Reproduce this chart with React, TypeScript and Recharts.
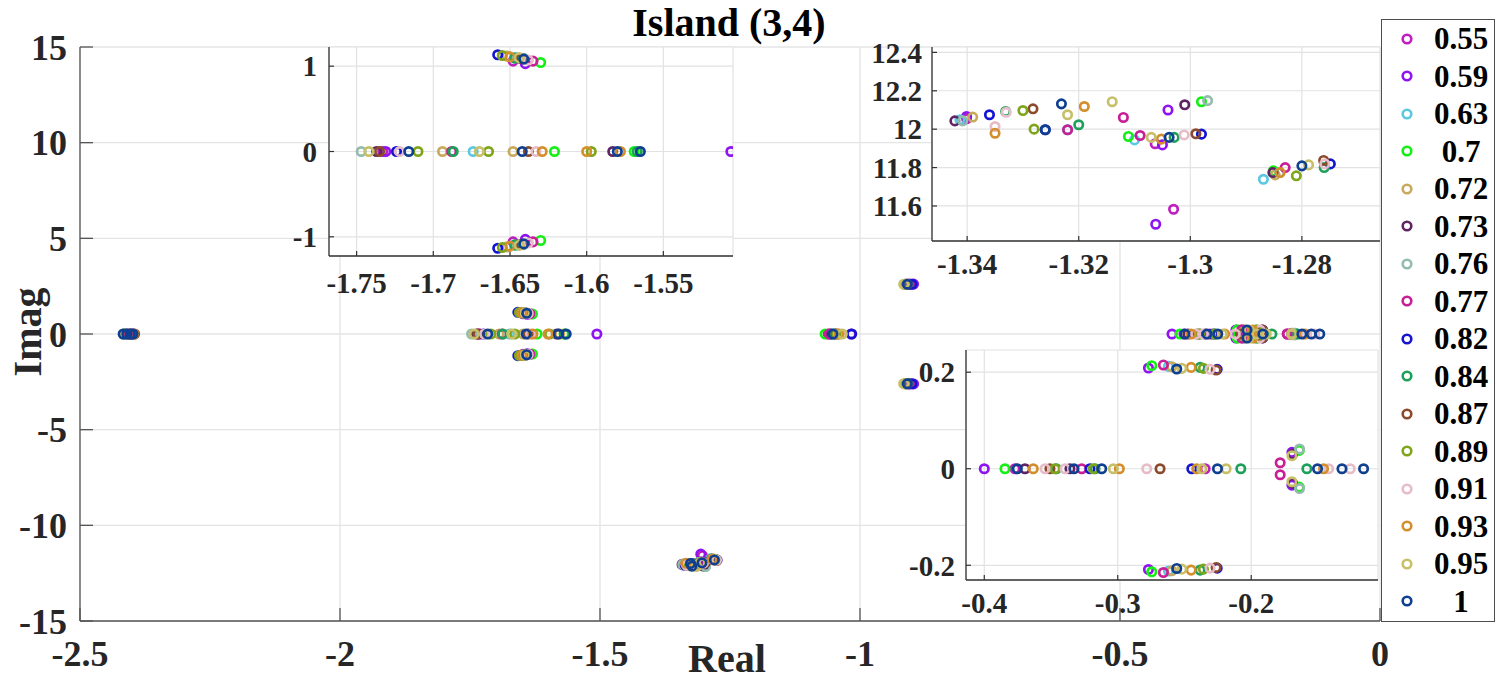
import React from "react";
import { ScatterChart, Scatter, XAxis, YAxis, CartesianGrid } from "recharts";

const SERIF = '"Liberation Serif", "Times New Roman", Times, serif';

const levels = ["0.55", "0.59", "0.63", "0.7", "0.72", "0.73", "0.76", "0.77", "0.82", "0.84", "0.87", "0.89", "0.91", "0.93", "0.95", "1"];
const levelColors = ["#bf1fbf", "#8f14f0", "#5bc8e0", "#14f014", "#c9a95c", "#5e2463", "#93bbae", "#c81e96", "#1414d2", "#1ea05a", "#8c4a2c", "#7fa51a", "#e6bcc8", "#d48f2c", "#c8c068", "#0f3f91"];

const mainXTicks = [-2.5, -2, -1.5, -1, -0.5, 0];
const mainYTicks = [-15, -10, -5, 0, 5, 10, 15];

type Pole = [string, number, number];

// real poles have im = 0; complex poles are stored by their upper half and drawn as re ± im
const farPoles: Pole[] = [
  ["0.55", -2.401, 0], ["0.59", -2.399, 0], ["0.63", -2.403, 0], ["0.7", -2.405, 0],
  ["0.72", -2.407, 0], ["0.73", -2.409, 0], ["0.76", -2.411, 0], ["0.77", -2.404, 0],
  ["0.82", -2.413, 0], ["0.84", -2.414, 0], ["0.87", -2.395, 0], ["0.89", -2.415, 0],
  ["0.91", -2.412, 0], ["0.93", -2.397, 0], ["0.95", -2.416, 0],
  ["1", -2.417, 0], ["1", -2.410, 0], ["1", -2.403, 0], ["1", -2.398, 0],
];

const midReal: Pole[] = [
  ["0.76", -1.747, 0], ["0.95", -1.742, 0], ["0.73", -1.737, 0], ["0.87", -1.735, 0],
  ["0.55", -1.733, 0], ["0.59", -1.731, 0], ["0.82", -1.724, 0], ["0.91", -1.722, 0],
  ["1", -1.716, 0], ["0.89", -1.710, 0], ["0.72", -1.694, 0], ["0.77", -1.688, 0],
  ["0.84", -1.687, 0], ["0.63", -1.674, 0], ["0.95", -1.670, 0], ["0.89", -1.664, 0],
  ["0.72", -1.648, 0], ["1", -1.642, 0], ["0.87", -1.638, 0], ["0.91", -1.633, 0],
  ["0.93", -1.629, 0], ["0.7", -1.621, 0], ["0.93", -1.600, 0], ["0.89", -1.597, 0],
  ["0.73", -1.583, 0], ["1", -1.580, 0], ["0.93", -1.578, 0], ["0.7", -1.569, 0],
  ["0.84", -1.567, 0], ["1", -1.565, 0], ["0.59", -1.506, 0],
];

const midPairs: Pole[] = [
  ["0.82", -1.658, 1.134], ["0.89", -1.655, 1.125], ["0.72", -1.652, 1.118], ["0.93", -1.650, 1.110],
  ["0.55", -1.648, 1.060], ["0.84", -1.647, 1.095], ["0.63", -1.646, 1.100], ["0.95", -1.644, 1.100],
  ["0.87", -1.643, 1.090], ["0.73", -1.642, 1.088], ["0.76", -1.641, 1.092], ["1", -1.641, 1.083],
  ["0.59", -1.640, 1.030], ["0.91", -1.638, 1.072], ["0.77", -1.635, 1.060], ["0.7", -1.630, 1.043],
];

const nearOne: Pole[] = [
  ["0.7", -1.067, 0], ["0.55", -1.061, 0], ["0.77", -1.059, 0], ["0.59", -1.017, 0],
  ["0.63", -1.055, 0], ["0.72", -1.045, 0], ["0.73", -1.056, 0], ["0.76", -1.050, 0],
  ["0.82", -1.016, 0], ["0.84", -1.048, 0], ["0.87", -1.046, 0], ["0.89", -1.044, 0],
  ["0.91", -1.041, 0], ["0.93", -1.040, 0], ["0.95", -1.034, 0], ["1", -1.052, 0],
];

const pairNine: Pole[] = [
  ["0.55", -0.905, 2.60], ["0.59", -0.897, 2.61], ["0.63", -0.908, 2.60], ["0.7", -0.906, 2.59],
  ["0.72", -0.910, 2.60], ["0.73", -0.907, 2.60], ["0.76", -0.912, 2.60], ["0.77", -0.904, 2.61],
  ["0.82", -0.900, 2.60], ["0.84", -0.909, 2.59], ["0.87", -0.911, 2.60], ["0.89", -0.913, 2.60],
  ["0.91", -0.910, 2.61], ["0.93", -0.914, 2.60], ["0.95", -0.916, 2.60], ["1", -0.909, 2.60],
];

const pairTwelve: Pole[] = [
  ["0.55", -1.3401, 12.054], ["0.55", -1.303, 11.583], ["0.55", -1.3063, 11.924],
  ["0.59", -1.3401, 12.066], ["0.59", -1.304, 12.10], ["0.59", -1.305, 11.918], ["0.59", -1.3062, 11.505],
  ["0.63", -1.3413, 12.049], ["0.63", -1.322, 11.997], ["0.63", -1.310, 11.944], ["0.63", -1.2869, 11.739],
  ["0.7", -1.3111, 11.962], ["0.7", -1.298, 12.143], ["0.7", -1.2851, 11.783],
  ["0.72", -1.339, 12.063], ["0.72", -1.2848, 11.762],
  ["0.73", -1.3422, 12.043], ["0.73", -1.301, 12.127], ["0.73", -1.2852, 11.774],
  ["0.76", -1.3408, 12.043], ["0.76", -1.2969, 12.149], ["0.76", -1.284, 11.774],
  ["0.77", -1.312, 12.061], ["0.77", -1.309, 11.967], ["0.77", -1.283, 11.80], ["0.77", -1.322, 11.997],
  ["0.82", -1.336, 12.075], ["0.82", -1.326, 11.997], ["0.82", -1.298, 11.974], ["0.82", -1.2749, 11.819],
  ["0.84", -1.3331, 12.092], ["0.84", -1.320, 12.023], ["0.84", -1.3029, 11.957], ["0.84", -1.276, 11.80],
  ["0.87", -1.3282, 12.106], ["0.87", -1.299, 11.976], ["0.87", -1.2761, 11.837],
  ["0.89", -1.330, 12.097], ["0.89", -1.328, 12.0], ["0.89", -1.281, 11.757],
  ["0.91", -1.335, 12.014], ["0.91", -1.333, 12.088], ["0.91", -1.3011, 11.97], ["0.91", -1.2759, 11.819],
  ["0.93", -1.335, 11.979], ["0.93", -1.319, 12.118], ["0.93", -1.3052, 11.948], ["0.93", -1.2839, 11.774],
  ["0.95", -1.322, 12.075], ["0.95", -1.314, 12.143], ["0.95", -1.307, 11.957], ["0.95", -1.2788, 11.814],
  ["1", -1.326, 11.997], ["1", -1.3231, 12.132], ["1", -1.3038, 11.957], ["1", -1.280, 11.809],
];

const slowReal: Pole[] = [
  ["0.59", -0.400, 0], ["0.7", -0.3845, 0], ["0.55", -0.377, 0], ["1", -0.3753, 0],
  ["0.73", -0.3695, 0], ["0.93", -0.3633, 0], ["0.91", -0.3545, 0], ["0.87", -0.3508, 0],
  ["0.89", -0.347, 0], ["0.84", -0.346, 0], ["0.91", -0.3395, 0], ["0.73", -0.3358, 0],
  ["1", -0.3328, 0], ["0.77", -0.327, 0], ["0.82", -0.3208, 0], ["0.89", -0.3183, 0],
  ["0.84", -0.317, 0], ["1", -0.312, 0], ["0.95", -0.3033, 0], ["0.93", -0.2988, 0],
  ["0.91", -0.2783, 0], ["0.87", -0.2683, 0], ["0.82", -0.2445, 0], ["0.93", -0.2408, 0],
  ["0.95", -0.237, 0], ["0.55", -0.2345, 0], ["1", -0.2253, 0], ["0.95", -0.2188, 0],
  ["0.84", -0.2078, 0], ["0.84", -0.1583, 0], ["1", -0.1503, 0], ["0.93", -0.1458, 0],
  ["0.91", -0.142, 0], ["1", -0.132, 0], ["0.91", -0.1258, 0], ["1", -0.1158, 0],
];

const slowPairs: Pole[] = [
  ["0.59", -0.277, 0.2087], ["0.7", -0.2745, 0.2135], ["0.77", -0.2658, 0.215], ["0.63", -0.262, 0.212],
  ["0.72", -0.2595, 0.2114], ["1", -0.2558, 0.2066], ["0.95", -0.252, 0.208], ["0.93", -0.245, 0.21],
  ["0.84", -0.2383, 0.21], ["0.89", -0.2358, 0.208], ["0.91", -0.2308, 0.206], ["0.82", -0.2255, 0.206],
  ["0.87", -0.2263, 0.2045],
  ["0.77", -0.1783, 0.0124], ["0.59", -0.1695, 0.034], ["0.73", -0.169, 0.030],
  ["0.95", -0.1695, 0.027], ["0.76", -0.1638, 0.041], ["0.7", -0.164, 0.038],
];

const poles: Pole[] = [...farPoles, ...midReal, ...midPairs, ...nearOne, ...pairNine, ...pairTwelve, ...slowReal, ...slowPairs];

type Pt = { re: number; im: number };

function pointsOf(level: string, xr: number[], yr: number[]): Pt[] {
  const out: Pt[] = [];
  poles.forEach(([lv, re, im]) => {
    if (lv !== level) return;
    const ys = im === 0 ? [0] : [im, -im];
    ys.forEach((y) => {
      if (re >= xr[0] && re <= xr[1] && y >= yr[0] && y <= yr[1]) out.push({ re, im: y });
    });
  });
  return out;
}

const ring = (color: string) => (p: any) => (
  <circle cx={p.cx} cy={p.cy} r={4.2} fill="none" stroke={color} strokeWidth={2.7} />
);

// box edges: ticks on top and right, no labels
function frameAxes(xDomain: number[], yDomain: number[], xTicks: number[], yTicks: number[], t: number, stroke: string) {
  return [
    <XAxis key="xt" xAxisId="top" orientation="top" type="number" domain={xDomain} ticks={xTicks} interval={0}
      allowDataOverflow height={0} tick={false} tickSize={-t} axisLine={{ stroke, strokeWidth: 1.3 }} tickLine={{ stroke, strokeWidth: 1.2 }} />,
    <YAxis key="yr" yAxisId="right" orientation="right" type="number" domain={yDomain} ticks={yTicks} interval={0}
      allowDataOverflow width={0} tick={false} tickSize={-t} axisLine={{ stroke, strokeWidth: 1.3 }} tickLine={{ stroke, strokeWidth: 1.2 }} />,
  ];
}

type InsetProps = {
  left: number; top: number; w: number; h: number;
  xDomain: number[]; yDomain: number[]; xTicks: number[]; yTicks: number[];
  xGap: number; yGap: number;
};

function Inset({ left, top, w, h, xDomain, yDomain, xTicks, yTicks, xGap, yGap }: InsetProps) {
  const padL = 90, padT = 20, padR = 6, padB = 50, t = 5;
  const tickFont = { fontFamily: SERIF, fontWeight: 700, fontSize: 29, fill: "#262626" };
  return (
    <div style={{ position: "absolute", left: left - padL, top: top - padT }}>
      <ScatterChart width={w + padL + padR} height={h + padT + padB} margin={{ top: padT, right: padR, bottom: 0, left: 0 }}>
        <CartesianGrid fill="#ffffff" fillOpacity={1} stroke="#e2e2e2" strokeWidth={1.2} />
        <XAxis type="number" dataKey="re" domain={xDomain} ticks={xTicks} interval={0} allowDataOverflow
          height={padB} tickSize={-t} tickMargin={t + xGap} tick={tickFont}
          axisLine={{ stroke: "#333", strokeWidth: 1.3 }} tickLine={{ stroke: "#333", strokeWidth: 1.2 }} />
        <YAxis type="number" dataKey="im" domain={yDomain} ticks={yTicks} interval={0} allowDataOverflow
          width={padL} tickSize={-t} tickMargin={t + yGap} tick={tickFont}
          axisLine={{ stroke: "#333", strokeWidth: 1.3 }} tickLine={{ stroke: "#333", strokeWidth: 1.2 }} />
        {frameAxes(xDomain, yDomain, xTicks, yTicks, t, "#333")}
        {levels.map((lv, i) => (
          <Scatter key={lv} name={lv} data={pointsOf(lv, xDomain, yDomain)} fill={levelColors[i]}
            shape={ring(levelColors[i])} isAnimationActive={false} />
        ))}
      </ScatterChart>
    </div>
  );
}

function LegendBox() {
  return (
    <div style={{
      position: "absolute", left: 1381, top: 19, width: 114, height: 603, boxSizing: "border-box",
      border: "1.5px solid #4d4d4d", background: "#fff",
    }}>
      {levels.map((lv, i) => (
        <div key={lv} style={{ position: "relative", height: 37.5 }}>
          <svg width={14} height={14} style={{ position: "absolute", left: 18, top: 11.75 }}>
            <circle cx={7} cy={7} r={4.3} fill="none" stroke={levelColors[i]} strokeWidth={2.6} />
          </svg>
          <span style={{
            position: "absolute", left: 44, width: 70, textAlign: "center", lineHeight: "37.5px",
            fontFamily: SERIF, fontWeight: 700, fontSize: 31, color: "#000",
          }}>{lv}</span>
        </div>
      ))}
    </div>
  );
}

export default function App() {
  const tickFont = { fontFamily: SERIF, fontWeight: 700, fontSize: 36, fill: "#262626" };
  return (
    <div style={{ position: "absolute", left: 0, top: 0, width: 1497, height: 681, background: "#fff" }}>
      <ScatterChart width={1497} height={681} margin={{ top: 47, right: 117, bottom: 0, left: 0 }}>
        <CartesianGrid stroke="#e4e4e4" strokeWidth={1.3} />
        <XAxis type="number" dataKey="re" domain={[-2.5, 0]} ticks={mainXTicks} interval={0} allowDataOverflow
          height={60} tickSize={-13} tickMargin={32} tick={tickFont}
          axisLine={{ stroke: "#555", strokeWidth: 1.3 }} tickLine={{ stroke: "#555", strokeWidth: 1.3 }} />
        <YAxis type="number" dataKey="im" domain={[-15, 15]} ticks={mainYTicks} interval={0} allowDataOverflow
          width={80} tickSize={-13} tickMargin={26} tick={tickFont}
          axisLine={{ stroke: "#555", strokeWidth: 1.3 }} tickLine={{ stroke: "#555", strokeWidth: 1.3 }} />
        {frameAxes([-2.5, 0], [-15, 15], mainXTicks, mainYTicks, 13, "#555")}
        {levels.map((lv, i) => (
          <Scatter key={lv} name={lv} data={pointsOf(lv, [-2.5, 0], [-15, 15])} fill={levelColors[i]}
            shape={ring(levelColors[i])} isAnimationActive={false} />
        ))}
      </ScatterChart>

      <svg width={1497} height={681} style={{ position: "absolute", left: 0, top: 0, pointerEvents: "none" }}>
        <text x={729} y={36} textAnchor="middle" fontFamily={SERIF} fontWeight={700} fontSize={40} fill="#000">Island (3,4)</text>
        <text x={727} y={672} textAnchor="middle" fontFamily={SERIF} fontWeight={700} fontSize={40} fill="#262626">Real</text>
        <text x={41} y={332} transform="rotate(-90 41 332)" textAnchor="middle" fontFamily={SERIF} fontWeight={700} fontSize={40} fill="#262626">Imag</text>
      </svg>

      <Inset left={329} top={47} w={404} h={209} xDomain={[-1.768, -1.5046]} yDomain={[-1.225, 1.225]}
        xTicks={[-1.75, -1.7, -1.65, -1.6, -1.55]} yTicks={[-1, 0, 1]} xGap={16} yGap={12} />
      <Inset left={932} top={47} w={448} h={194} xDomain={[-1.3463, -1.266]} yDomain={[11.4175, 12.428]}
        xTicks={[-1.34, -1.32, -1.3, -1.28]} yTicks={[11.6, 11.8, 12, 12.2, 12.4]} xGap={12} yGap={10} />
      <Inset left={966} top={350} w={412} h={230} xDomain={[-0.4137, -0.105]} yDomain={[-0.2305, 0.246]}
        xTicks={[-0.4, -0.3, -0.2]} yTicks={[-0.2, 0, 0.2]} xGap={12} yGap={11} />

      <LegendBox />
    </div>
  );
}
